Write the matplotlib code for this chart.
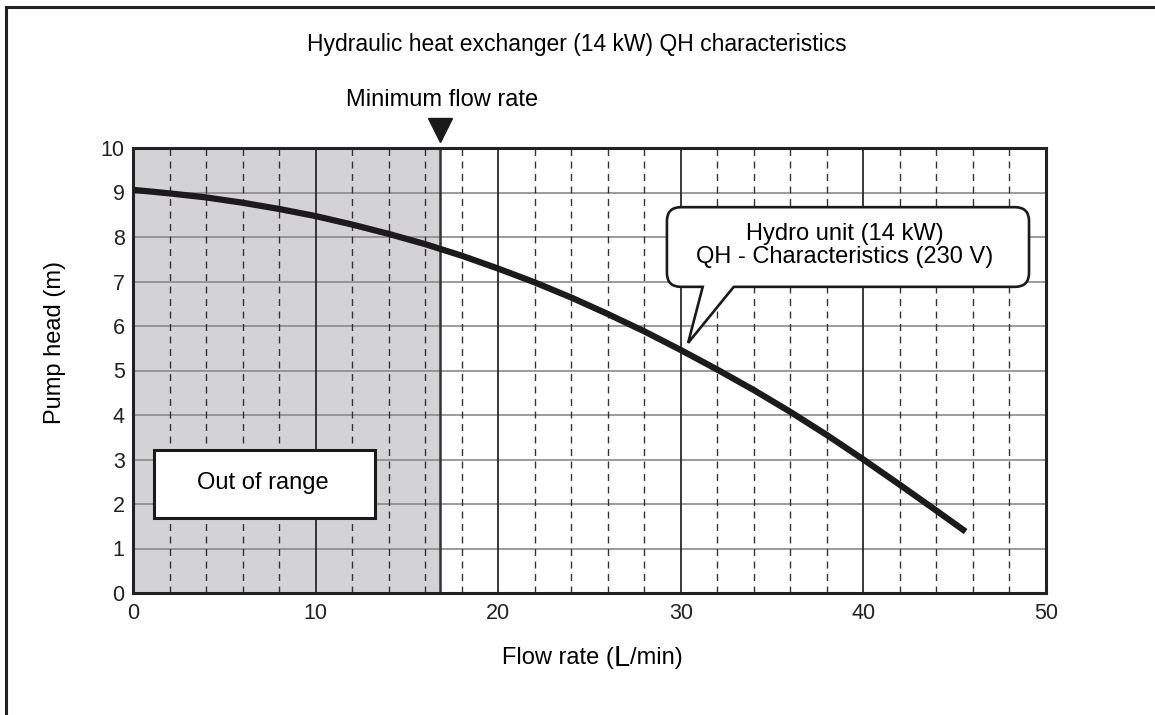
import numpy as np
import matplotlib
matplotlib.use("Agg")
import matplotlib.pyplot as plt
from matplotlib.path import Path
from matplotlib.patches import PathPatch, Rectangle
from matplotlib.lines import Line2D

plt.rcParams["font.family"] = ["Liberation Sans", "DejaVu Sans"]

# ── Datos de la curva QH ────────────────────────────────────────────────────
caudal = [0, 2, 4, 6, 8, 10, 12, 14, 16, 18, 20, 22, 24, 26, 28, 30,
          32, 34, 36, 38, 40, 42, 44, 45.6]
altura = [9.06, 8.98, 8.89, 8.77, 8.63, 8.47, 8.28, 8.07, 7.84, 7.58, 7.29, 6.98,
          6.64, 6.27, 5.88, 5.46, 5.02, 4.56, 4.07, 3.55, 3.00, 2.43, 1.85, 1.38]

caudal_minimo = 16.8
x_ticks = [0, 10, 20, 30, 40, 50]
y_ticks = list(range(0, 11))

titulo = "Hydraulic heat exchanger (14 kW) QH characteristics"
etiqueta_min = "Minimum flow rate"
texto_fuera = "Out of range"
texto_globo = "Hydro unit (14 kW)\nQH - Characteristics (230 V)"

# ── Figura ──────────────────────────────────────────────────────────────────
W, H = 1155, 715
fig = plt.figure(figsize=(W / 100, H / 100), dpi=100)
ax = fig.add_axes([133 / W, 1 - 593 / H, 913 / W, 445 / H])
ax.set_xlim(0, 50)
ax.set_ylim(0, 10)

# zona fuera de rango
ax.axvspan(0, caudal_minimo, color="#d3d3d5", zorder=0, lw=0)
ax.axvline(caudal_minimo, color="#333333", lw=1.8, zorder=2)

# rejilla
for y in y_ticks[1:-1]:
    ax.axhline(y, color="#8a8a8a", lw=1.2, zorder=1)
for x in range(2, 50, 2):
    if x % 10 == 0:
        ax.axvline(x, color="#2a2a2a", lw=1.3, zorder=1)
    else:
        ax.axvline(x, color="#333333", lw=1.0, ls=(0, (5, 4)), zorder=1)

# curva
ax.plot(caudal, altura, color="#1c1a1a", lw=4.5, solid_capstyle="butt",
        solid_joinstyle="round", zorder=5)

for s in ax.spines.values():
    s.set_linewidth(2.2)
    s.set_color("#222222")

ax.set_xticks(x_ticks)
ax.set_yticks(y_ticks)
ax.tick_params(length=0, labelsize=15.5, colors="#222222")
ax.tick_params(axis="x", pad=7)
ax.tick_params(axis="y", pad=6)

fig.text(55 / W, 1 - 343 / H, "Pump head (m)", fontsize=17, rotation=90,
         ha="center", va="center")

# etiqueta X con "L" más grande
fig.canvas.draw()
rend = fig.canvas.get_renderer()
yx = 1 - 658 / H
t1 = fig.text(0, yx, "Flow rate (", fontsize=17, va="center")
t2 = fig.text(0, yx, "L", fontsize=21, va="center")
t3 = fig.text(0, yx, "/min)", fontsize=17, va="center")
ws = [t.get_window_extent(rend).width for t in (t1, t2, t3)]
x0 = 592 / W - sum(ws) / 2 / W
t1.set_x(x0)
t2.set_x(x0 + ws[0] / W)
t3.set_x(x0 + (ws[0] + ws[1]) / W)

fig.text(577 / W, 1 - 45 / H, titulo, fontsize=16.5, ha="center", va="center")
ax.text(caudal_minimo + 0.1, 11.08, etiqueta_min, fontsize=17, ha="center", va="center")
ax.plot([caudal_minimo], [10.4], marker="v", ms=17, color="#1a1a1a", clip_on=False)

# cuadro "Out of range"
ax.add_patch(Rectangle((1.15, 1.69), 12.1, 1.52, facecolor="white",
                       edgecolor="#1a1a1a", lw=2.2, zorder=6))
ax.text(7.09, 2.47, texto_fuera, fontsize=17, ha="center", va="center", zorder=7)

# globo de texto
bx0, bx1, by0, by1 = 29.24, 49.07, 6.88, 8.67
rx, ry = 14 / 18.26, 14 / 44.5
tl, tr, tip = (31.2, by0), (32.9, by0), (30.4, 5.62)
verts = [(bx0, by0 + ry), (bx0, by0), (bx0 + rx, by0), tl, tip, tr,
         (bx1 - rx, by0), (bx1, by0), (bx1, by0 + ry), (bx1, by1 - ry),
         (bx1, by1), (bx1 - rx, by1), (bx0 + rx, by1), (bx0, by1),
         (bx0, by1 - ry), (bx0, by0 + ry)]
codes = [Path.MOVETO, Path.CURVE3, Path.CURVE3, Path.LINETO, Path.LINETO,
         Path.LINETO, Path.LINETO, Path.CURVE3, Path.CURVE3, Path.LINETO,
         Path.CURVE3, Path.CURVE3, Path.LINETO, Path.CURVE3, Path.CURVE3,
         Path.CLOSEPOLY]
ax.add_patch(PathPatch(Path(verts, codes), facecolor="white", edgecolor="#1a1a1a",
                       lw=1.9, zorder=8))
ax.text((845 - 133) / 18.26, (593 - 245.5) / 44.5, texto_globo, fontsize=17,
        ha="center", va="center", linespacing=1.05, zorder=9)

# marco exterior (izquierda y arriba)
fig.add_artist(Line2D([6 / W, 6 / W], [0, 1 - 7 / H], color="#222222", lw=2.2))
fig.add_artist(Line2D([6 / W, 1], [1 - 7 / H, 1 - 7 / H], color="#222222", lw=2.2))

fig.savefig("out.png", dpi=100)
